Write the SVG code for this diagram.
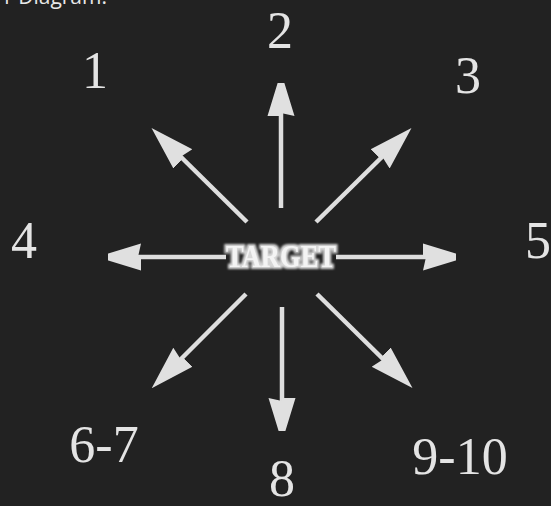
<svg xmlns="http://www.w3.org/2000/svg" width="551" height="506" viewBox="0 0 551 506">
<defs>
<style>
.num{font-family:"Liberation Serif","Times New Roman",serif;font-size:52px;fill:#e4e4e4;text-anchor:middle}
.arr{stroke:#dedede;stroke-width:4.5;fill:none;marker-end:url(#head)}
.cap{font-family:"Open Sans","Liberation Sans",sans-serif;font-size:21px;fill:#e8e8e8}
</style>
<marker id="head" viewBox="0 0 44 30" refX="4" refY="15" markerWidth="44" markerHeight="30" markerUnits="userSpaceOnUse" orient="auto">
<path d="M0,15 L0,1.5 L44,15 L0,28.5 L3,15 z" fill="#e0e0e0"/>
</marker>
<filter id="soft" x="-10%" y="-10%" width="120%" height="120%"><feGaussianBlur stdDeviation="0.7"/></filter>
<filter id="glow" x="-20%" y="-40%" width="140%" height="180%">
<feMorphology in="SourceAlpha" operator="dilate" radius="2" result="d"/>
<feGaussianBlur in="d" stdDeviation="1.2" result="b"/>
<feFlood flood-color="#d8d8d8"/>
<feComposite in2="b" operator="in" result="halo"/>
<feMerge><feMergeNode in="halo"/><feMergeNode in="SourceGraphic"/></feMerge>
</filter>
</defs>
<rect width="551" height="506" fill="#222222"/>
<text class="cap" x="107" y="4" text-anchor="end">r Diagram:</text>
<g id="connectors" filter="url(#soft)">
<line class="arr" x1="281" y1="208" x2="281" y2="112"/>
<line class="arr" x1="282" y1="307" x2="282" y2="402"/>
<line class="arr" x1="226" y1="257" x2="137" y2="257"/>
<line class="arr" x1="336" y1="257" x2="427" y2="257"/>
<line class="arr" x1="247" y1="222" x2="180" y2="156"/>
<line class="arr" x1="316" y1="222" x2="383" y2="156"/>
<line class="arr" x1="246" y1="294" x2="180" y2="360"/>
<line class="arr" x1="317" y1="294" x2="384" y2="360"/>
</g>
<g id="target"><text x="281" y="267" text-anchor="middle" font-family="Liberation Serif,serif" font-weight="bold" font-size="31" textLength="110" lengthAdjust="spacingAndGlyphs" fill="#f4f4f4" filter="url(#glow)">TARGET</text></g>
<g id="n1"><text class="num" x="95" y="88">1</text></g>
<g id="n2"><text class="num" x="280" y="48">2</text></g>
<g id="n3"><text class="num" x="468" y="93">3</text></g>
<g id="n4"><text class="num" x="24" y="258">4</text></g>
<g id="n5"><text class="num" x="538" y="258">5</text></g>
<g id="n67"><text class="num" x="104" y="462">6-7</text></g>
<g id="n8"><text class="num" x="282" y="496">8</text></g>
<g id="n910"><text class="num" x="460" y="474">9-10</text></g>
</svg>
